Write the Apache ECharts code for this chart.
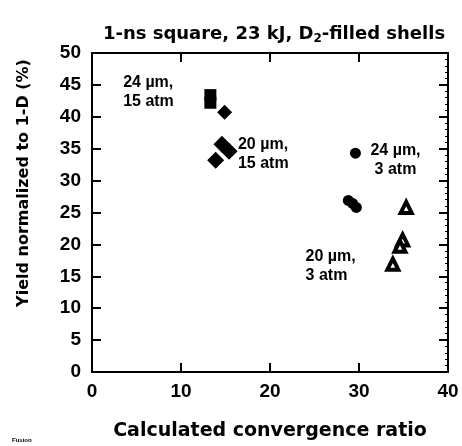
<!DOCTYPE html>
<html>
<head>
<meta charset="utf-8">
<script src="https://cdn.jsdelivr.net/npm/echarts@6/dist/echarts.min.js"></script>
<style>
  html, body { margin: 0; padding: 0; background: #fff; }
  #chart { width: 462px; height: 446px; }
</style>
</head>
<body>
<div id="chart"></div>
<script>
// 24 um, 15 atm
var sq24_15 = [[13.3, 43.4], [13.3, 42.2]];
var dia24_15 = [[14.9, 40.7]];
// 20 um, 15 atm
var dia20_15 = [[14.6, 35.7], [15.4, 34.6], [13.9, 33.2]];
// 24 um, 3 atm
var circ24_3 = [[29.6, 34.3], [28.8, 26.9], [29.3, 26.4], [29.7, 25.8]];
// 20 um, 3 atm
var tri20_3 = [[35.3, 25.8], [34.9, 20.7], [34.6, 19.7], [33.8, 16.9]];

var xTicks = [0, 10, 20, 30, 40];
var yTicks = [0, 5, 10, 15, 20, 25, 30, 35, 40, 45, 50];

var notes = ['24 \u00b5m,\n15 atm', '20 \u00b5m,\n15 atm', '24 \u00b5m,\n3 atm', '20 \u00b5m,\n3 atm'];
var noteAt = [[3.5, 43.9], [16.4, 34.2], [34.1, 33.2], [24.0, 16.6]];
var noteAlign = ['left', 'left', 'center', 'left'];

var font = 'Liberation Sans, Arial, sans-serif';
var wide = 'DejaVu Sans, sans-serif';

var chart = echarts.init(document.getElementById('chart'));

function pts(name, data, symbol, size, style) {
    style.opacity = 1;
    return {
        name: name,
        type: 'scatter',
        data: data,
        symbol: symbol,
        symbolSize: size,
        itemStyle: style,
        emphasis: { disabled: true },
        z: 3
    };
}

var series = [
    pts('sq', sq24_15, 'rect', 12, { color: '#000' }),
    pts('dia1', dia24_15, 'diamond', 15, { color: '#000' }),
    pts('dia2', dia20_15, 'diamond', 17, { color: '#000' }),
    pts('circ', circ24_3, 'circle', 11, { color: '#000' }),
    pts('tri', tri20_3, 'triangle', 11, { color: '#fff', borderColor: '#000', borderWidth: 4 })
];

series.push({
    type: 'scatter',
    symbolSize: 0,
    silent: true,
    itemStyle: { opacity: 1 },
    data: noteAt.map(function (p, i) {
        return {
            value: p,
            label: {
                show: true,
                position: 'inside',
                formatter: notes[i],
                align: noteAlign[i],
                verticalAlign: 'middle',
                color: '#000',
                fontFamily: font,
                fontWeight: 'bold',
                fontSize: 16,
                lineHeight: 19
            }
        };
    })
});

chart.setOption({
    animation: false,
    backgroundColor: '#fff',
    title: {
        text: '1-ns square, 23 kJ, D{s|2}-filled shells',
        left: 269,
        textAlign: 'center',
        top: 19,
        textStyle: {
            fontFamily: wide,
            fontWeight: 'bold',
            fontSize: 18,
            color: '#000',
            rich: {
                s: { fontFamily: wide, fontWeight: 'bold', fontSize: 12, color: '#000', padding: [9, 0, 0, 0] }
            }
        }
    },
    grid: { left: 92, right: 14, top: 53, bottom: 74 },
    xAxis: [{
        type: 'value',
        min: xTicks[0],
        max: xTicks[xTicks.length - 1],
        interval: 10,
        name: 'Calculated convergence ratio',
        nameLocation: 'middle',
        nameGap: 50,
        nameTextStyle: { fontFamily: wide, fontWeight: 'bold', fontSize: 19, color: '#000' },
        axisLine: { lineStyle: { color: '#000', width: 2 } },
        axisTick: { inside: true, length: 9, lineStyle: { color: '#000', width: 2 } },
        axisLabel: { margin: 10, fontFamily: font, fontWeight: 'bold', fontSize: 19, color: '#000' },
        splitLine: { show: false }
    }, {
        type: 'value',
        position: 'top',
        min: xTicks[0],
        max: xTicks[xTicks.length - 1],
        interval: 10,
        axisLine: { show: true, onZero: false, lineStyle: { color: '#000', width: 2 } },
        axisTick: { inside: true, length: 9, lineStyle: { color: '#000', width: 2 } },
        axisLabel: { show: false },
        splitLine: { show: false }
    }],
    yAxis: [{
        type: 'value',
        min: yTicks[0],
        max: yTicks[yTicks.length - 1],
        interval: 5,
        axisLine: { show: true, lineStyle: { color: '#000', width: 2 } },
        axisTick: { show: true, inside: true, length: 9, lineStyle: { color: '#000', width: 2 } },
        axisLabel: { margin: 11, fontFamily: font, fontWeight: 'bold', fontSize: 19, color: '#000' },
        splitLine: { show: false }
    }, {
        type: 'value',
        position: 'right',
        min: yTicks[0],
        max: yTicks[yTicks.length - 1],
        interval: 5,
        axisLine: { show: true, onZero: false, lineStyle: { color: '#000', width: 2 } },
        axisTick: { show: true, inside: true, length: 9, lineStyle: { color: '#000', width: 2 } },
        minorTick: { show: true, splitNumber: 5, length: 3, lineStyle: { color: '#000', width: 1 } },
        axisLabel: { show: false },
        splitLine: { show: false }
    }],
    graphic: [{
        type: 'text',
        x: 24,
        y: 183,
        rotation: Math.PI / 2,
        style: {
            text: 'Yield normalized to 1-D (%)',
            fill: '#000',
            font: 'bold 16px ' + wide,
            textAlign: 'center',
            textVerticalAlign: 'middle'
        }
    }, {
        type: 'text',
        left: 12,
        top: 437,
        style: { text: 'Fusion', fill: '#000', font: 'bold 6px ' + font }
    }],
    series: series
});
</script>
</body>
</html>
